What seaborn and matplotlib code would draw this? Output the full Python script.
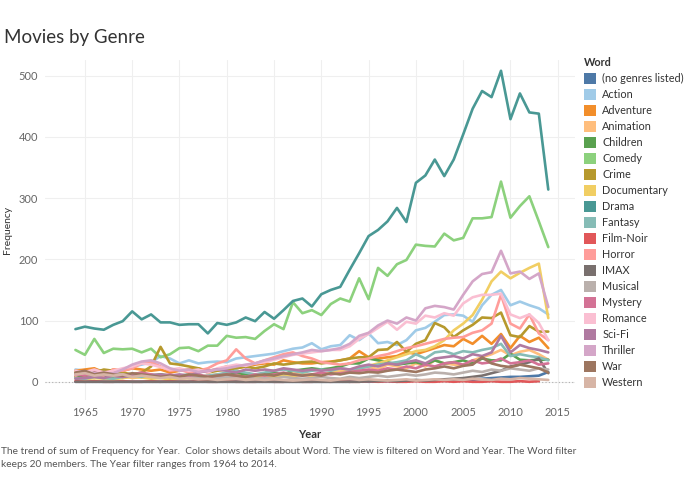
import numpy as np
import pandas as pd
import matplotlib.pyplot as plt
import seaborn as sns
from matplotlib.patches import Patch

# ==========================================
# 데이터 (1964 ~ 2014, 장르별 빈도)
# ==========================================
years = list(range(1964, 2015))

genres = ['(no genres listed)', 'Action', 'Adventure', 'Animation', 'Children', 'Comedy',
          'Crime', 'Documentary', 'Drama', 'Fantasy', 'Film-Noir', 'Horror', 'IMAX',
          'Musical', 'Mystery', 'Romance', 'Sci-Fi', 'Thriller', 'War', 'Western']

colors = ['#4e79a7', '#a0cbe8', '#f28e2b', '#ffbe7d', '#59a14f', '#8cd17d',
          '#b6992d', '#f1ce63', '#499894', '#86bcb6', '#e15759', '#ff9d9a', '#79706e',
          '#bab0ac', '#d37295', '#fabfd2', '#b07aa1', '#d4a6c8', '#9d7660', '#d7b5a6']

no_genres = [0, 0, 0, 0, 0, 0, 0, 0, 0, 0,
             0, 0, 0, 0, 0, 0, 0, 0, 0, 0,
             0, 0, 0, 0, 0, 0, 0, 0, 0, 0,
             1, 0, 1, 1, 0, 1, 2, 1, 2, 2,
             3, 4, 3, 5, 6, 7, 8, 8, 9, 10,
             16]
action = [20, 18, 20, 18, 15, 20, 25, 28, 32, 42,
          38, 30, 35, 30, 32, 33, 32, 38, 40, 42,
          44, 46, 50, 54, 56, 63, 53, 58, 60, 76,
          68, 79, 63, 65, 60, 68, 84, 88, 98, 109,
          110, 108, 98, 125, 142, 150, 125, 131, 125, 120,
          110]
adventure = [18, 20, 22, 15, 20, 18, 22, 20, 18, 20,
             15, 18, 20, 22, 18, 20, 25, 22, 25, 28,
             30, 28, 35, 32, 30, 30, 32, 33, 35, 38,
             50, 40, 38, 40, 42, 49, 45, 50, 55, 60,
             58, 70, 62, 75, 62, 78, 55, 75, 65, 72,
             55]
animation = [8, 10, 6, 12, 8, 10, 6, 8, 10, 12,
             8, 10, 6, 8, 10, 12, 8, 10, 12, 8,
             10, 12, 10, 15, 12, 10, 12, 15, 18, 20,
             22, 25, 20, 28, 25, 22, 30, 25, 35, 30,
             28, 27, 35, 40, 45, 52, 43, 49, 52, 45,
             36]
children = [8, 10, 12, 10, 8, 12, 10, 8, 10, 12,
            10, 8, 12, 10, 8, 10, 12, 15, 12, 10,
            12, 15, 12, 18, 20, 22, 20, 22, 25, 30,
            30, 38, 35, 32, 28, 30, 32, 28, 35, 30,
            32, 35, 30, 38, 35, 35, 46, 36, 35, 36,
            36]
comedy = [52, 44, 70, 47, 54, 53, 54, 48, 54, 40,
          45, 55, 56, 50, 59, 59, 75, 72, 73, 70,
          83, 94, 86, 130, 112, 117, 109, 127, 136, 131,
          169, 135, 186, 173, 192, 199, 224, 222, 221, 242,
          231, 235, 267, 267, 269, 327, 268, 287, 303, 262,
          220]
crime = [15, 10, 15, 20, 18, 15, 12, 15, 25, 57,
         30, 28, 25, 22, 15, 18, 20, 22, 25, 22,
         25, 30, 28, 30, 32, 33, 30, 32, 35, 38,
         40, 40, 52, 53, 65, 49, 62, 68, 96, 89,
         73, 84, 93, 105, 104, 113, 76, 73, 91, 82,
         82]
documentary = [5, 4, 6, 5, 4, 6, 8, 7, 5, 6,
               4, 5, 6, 5, 4, 6, 5, 7, 6, 8,
               7, 8, 10, 9, 12, 10, 12, 14, 15, 18,
               22, 26, 30, 35, 40, 45, 50, 52, 58, 68,
               84, 95, 109, 134, 164, 180, 169, 178, 186, 193,
               104]
drama = [86, 90, 87, 85, 93, 99, 115, 102, 110, 97,
         97, 93, 94, 94, 79, 96, 93, 97, 105, 99,
         114, 103, 117, 132, 136, 123, 143, 150, 155, 183,
         210, 238, 248, 262, 284, 261, 325, 337, 363, 336,
         363, 404, 446, 475, 465, 508, 429, 471, 440, 438,
         314]
fantasy = [6, 5, 8, 6, 5, 8, 10, 8, 12, 10,
           8, 10, 12, 8, 10, 12, 15, 18, 15, 12,
           15, 18, 20, 18, 15, 18, 20, 18, 22, 20,
           22, 25, 28, 30, 32, 35, 45, 38, 48, 50,
           45, 50, 48, 52, 55, 62, 42, 45, 42, 40,
           35]
film_noir = [1, 0, 1, 0, 0, 1, 0, 0, 1, 0,
             1, 0, 0, 1, 0, 0, 1, 0, 0, 0,
             1, 0, 0, 1, 0, 0, 1, 0, 1, 0,
             0, 1, 0, 1, 0, 0, 1, 0, 0, 1,
             0, 1, 0, 0, 1, 0, 0, 1, 0, 1,
             np.nan]
horror = [10, 15, 12, 10, 20, 18, 22, 30, 32, 25,
          18, 20, 15, 18, 22, 30, 35, 53, 38, 30,
          35, 40, 45, 48, 42, 38, 32, 30, 28, 30,
          35, 38, 42, 45, 50, 55, 58, 62, 66, 70,
          72, 73, 80, 84, 95, 142, 95, 87, 110, 79,
          68]
imax = [0, 0, 0, 0, 0, 0, 0, 0, 0, 0,
        0, 0, 0, 0, 0, 0, 0, 0, 0, 0,
        0, 0, 0, 0, 0, 0, 0, 0, 0, 0,
        0, 1, 1, 2, 1, 2, 3, 2, 3, 4,
        5, 6, 8, 10, 14, 18, 25, 28, 32, 38,
        14]
musical = [14, 12, 15, 16, 14, 12, 10, 12, 8, 10,
           8, 10, 6, 8, 10, 6, 8, 6, 8, 5,
           6, 5, 8, 6, 5, 6, 8, 6, 5, 8,
           6, 8, 10, 8, 10, 12, 10, 12, 15, 14,
           12, 15, 18, 16, 20, 18, 22, 20, 18, 22,
           20]
mystery = [12, 10, 15, 12, 10, 8, 12, 15, 12, 10,
           12, 8, 10, 12, 8, 10, 12, 10, 8, 12,
           10, 12, 15, 12, 10, 12, 15, 12, 14, 16,
           18, 20, 18, 22, 20, 25, 22, 28, 25, 30,
           32, 28, 35, 30, 32, 38, 30, 32, 35, 28,
           30]
romance = [18, 16, 20, 15, 18, 22, 25, 30, 28, 24,
           20, 22, 18, 20, 15, 22, 25, 28, 26, 30,
           32, 36, 40, 44, 46, 48, 50, 52, 52, 58,
           70, 78, 88, 98, 85, 98, 95, 108, 105, 112,
           108, 128, 138, 142, 142, 144, 110, 104, 110, 96,
           68]
scifi = [5, 6, 8, 6, 10, 8, 10, 12, 10, 12,
         10, 12, 10, 15, 18, 20, 18, 15, 20, 18,
         20, 18, 22, 20, 18, 20, 18, 20, 22, 20,
         25, 28, 25, 30, 28, 32, 35, 30, 38, 40,
         42, 38, 45, 42, 48, 75, 48, 60, 55, 52,
         48]
thriller = [12, 15, 14, 13, 14, 20, 28, 33, 35, 30,
            22, 18, 20, 16, 18, 20, 22, 25, 28, 30,
            35, 38, 42, 45, 48, 52, 50, 52, 55, 62,
            75, 80, 92, 100, 95, 105, 100, 120, 124, 122,
            118, 142, 164, 176, 179, 214, 177, 180, 168, 177,
            122]
war = [15, 18, 12, 15, 12, 10, 14, 12, 10, 8,
       10, 8, 12, 10, 8, 10, 12, 10, 8, 10,
       12, 10, 14, 12, 10, 12, 10, 14, 12, 15,
       14, 16, 15, 18, 20, 18, 16, 20, 22, 25,
       22, 26, 28, 40, 30, 26, 24, 28, 25, 22,
       15]
western = [12, 14, 10, 12, 10, 12, 8, 10, 8, 6,
           8, 5, 6, 4, 5, 3, 4, 5, 3, 4,
           3, 4, 3, 2, 3, 4, 3, 2, 4, 5,
           3, 4, 3, 2, 3, 4, 2, 3, 4, 3,
           4, 3, 5, 4, 3, 5, 4, 6, 5, 4,
           3]

series = [no_genres, action, adventure, animation, children, comedy, crime,
          documentary, drama, fantasy, film_noir, horror, imax, musical,
          mystery, romance, scifi, thriller, war, western]

df = pd.concat([pd.DataFrame({'Year': years, 'Frequency': vals, 'Word': g})
                for g, vals in zip(genres, series)], ignore_index=True)
df = df.dropna()

palette = dict(zip(genres, colors))

# ==========================================
# 그래프
# ==========================================
sns.set_style('white')
plt.rcParams['font.family'] = ['Lato', 'DejaVu Sans']

fig = plt.figure(figsize=(6.95, 4.94), dpi=100)
ax = fig.add_axes([0.065, 0.19, 0.762, 0.689])

ax.grid(True, color='#efefef', linewidth=0.8)
ax.set_axisbelow(True)
ax.axhline(0, color='#b0b0b0', linewidth=0.8, linestyle=(0, (1, 2)), zorder=1)

sns.lineplot(data=df, x='Year', y='Frequency', hue='Word', hue_order=genres,
             palette=palette, linewidth=1.9, legend=False, ax=ax, zorder=3)

ax.set_xlim(1960.8, 2016.8)
ax.set_ylim(-30, 526)
ax.set_xticks(range(1965, 2016, 5))
ax.set_yticks(range(0, 501, 100))
ax.tick_params(axis='both', length=0, labelsize=8, labelcolor='#666666', pad=5)
for s in ax.spines.values():
    s.set_visible(False)

ax.set_xlabel('Year', fontsize=8, fontweight='bold', color='#333333', labelpad=8)
ax.set_ylabel('Frequency', fontsize=7.5, color='#333333', labelpad=5)

fig.text(0.006, 0.925, 'Movies by Genre', fontsize=13.5, color='#333333', va='center')

handles = [Patch(facecolor=c, edgecolor='none') for c in colors]
leg = fig.legend(handles, genres, loc='upper left', bbox_to_anchor=(0.840, 0.884),
                 frameon=False, fontsize=7.8, title='Word', handlelength=1.1,
                 handleheight=1.1, handletextpad=0.6, labelspacing=0.46,
                 borderaxespad=0, borderpad=0)
leg.get_title().set_fontweight('bold')
leg.get_title().set_fontsize(7.8)
leg.get_title().set_color('#333333')
leg._legend_box.align = 'left'
for t in leg.get_texts():
    t.set_color('#333333')

caption = ('The trend of sum of Frequency for Year.  Color shows details about Word. '
           'The view is filtered on Word and Year. The Word filter\n'
           'keeps 20 members. The Year filter ranges from 1964 to 2014.')
fig.text(0.002, 0.095, caption, fontsize=7.3, color='#555555', va='top', linespacing=1.5)

plt.savefig('out.png', dpi=100)
plt.close()
